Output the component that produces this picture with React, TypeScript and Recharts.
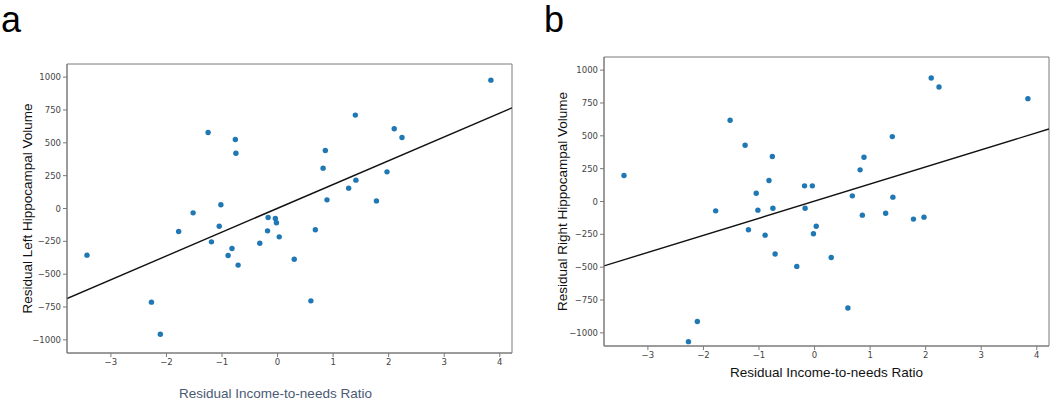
import {
  ScatterChart,
  Scatter,
  XAxis,
  YAxis,
  ReferenceLine,
  ReferenceArea,
} from "recharts";

// Residual income-to-needs ratio (shared by both panels)
const incomeResid = [
  -3.43, -2.27, -2.11, -1.78, -1.52, -1.25, -1.19, -1.05, -1.02, -0.89, -0.82,
  -0.76, -0.75, -0.71, -0.32, -0.18, -0.17, -0.04, -0.02, 0.03, 0.3, 0.6, 0.68,
  0.82, 0.86, 0.89, 1.28, 1.4, 1.41, 1.78, 1.97, 2.1, 2.24, 3.84,
];

// Residual left hippocampal volume (panel a)
const leftVolume = [
  -355, -713, -957, -175, -33, 579, -254, -135, 28, -358, -305, 525, 421, -431,
  -264, -170, -69, -76, -109, -216, -386, -703, -162, 307, 442, 66, 155, 711,
  216, 58, 279, 607, 541, 977,
];

// Residual right hippocampal volume (panel b)
const rightVolume = [
  198, -1067, -913, -71, 619, 428, -215, 63, -66, -256, 160, 342, -51, -400,
  -494, 119, -51, 119, -246, -188, -426, -811, 43, 241, -104, 337, -89, 494, 33,
  -134, -119, 940, 872, 783,
];

const xTicks = [-3, -2, -1, 0, 1, 2, 3, 4];
const yTicks = [-1000, -750, -500, -250, 0, 250, 500, 750, 1000];
const X_DOMAIN: [number, number] = [-3.79, 4.22];
const Y_DOMAIN: [number, number] = [-1100, 1100];

const BLUE = "#1f77b4";
const AXIS = "#7a7a7a";

const fmt = (v: number) => String(v).replace("-", "\u2212");

// ordinary least squares fit, as in the original figure
function fit(xs: number[], ys: number[]) {
  const n = xs.length;
  const mx = xs.reduce((a, b) => a + b, 0) / n;
  const my = ys.reduce((a, b) => a + b, 0) / n;
  let sxy = 0;
  let sxx = 0;
  xs.forEach((x, i) => {
    sxy += (x - mx) * (ys[i] - my);
    sxx += (x - mx) * (x - mx);
  });
  const slope = sxy / sxx;
  const icpt = my - slope * mx;
  return X_DOMAIN.map((x) => ({ x, y: icpt + slope * x }));
}

const Dot = (props: any) => <circle cx={props.cx} cy={props.cy} r={2.7} fill={BLUE} />;

type PanelProps = {
  ys: number[];
  yLabel: string;
  xLabelColor: string;
  margin: { top: number; right: number; bottom: number; left: number };
  yLabelDx: number;
  xLabelDx: number;
  xLabelDy: number;
};

function Panel({ ys, yLabel, xLabelColor, margin, yLabelDx, xLabelDx, xLabelDy }: PanelProps) {
  const points = incomeResid.map((x, i) => ({ x, y: ys[i] }));
  const line = fit(incomeResid, ys);
  const tick = { fontSize: 8.5, fill: "#444", fontFamily: "DejaVu Sans" };

  return (
    <ScatterChart width={520} height={400} margin={margin}>
      <XAxis
        type="number"
        dataKey="x"
        domain={X_DOMAIN}
        ticks={xTicks}
        tickFormatter={fmt}
        allowDataOverflow
        height={30}
        stroke={AXIS}
        tick={tick}
        tickSize={4}
        label={{
          value: "Residual Income-to-needs Ratio",
          position: "center",
          dx: xLabelDx,
          dy: xLabelDy,
          fill: xLabelColor,
          fontSize: 13.5,
          fontFamily: "Liberation Sans",
        }}
      />
      <YAxis
        type="number"
        dataKey="y"
        domain={Y_DOMAIN}
        ticks={yTicks}
        tickFormatter={fmt}
        allowDataOverflow
        width={40}
        stroke={AXIS}
        tick={tick}
        tickSize={4}
        label={{
          value: yLabel,
          angle: -90,
          position: "center",
          dx: yLabelDx,
          fill: "#111",
          fontSize: 13.5,
          fontFamily: "Liberation Sans",
        }}
      />
      <ReferenceArea
        x1={X_DOMAIN[0]}
        x2={X_DOMAIN[1]}
        y1={Y_DOMAIN[0]}
        y2={Y_DOMAIN[1]}
        fill="none"
        stroke={AXIS}
        strokeWidth={1}
      />
      <ReferenceLine segment={line} stroke="#111" strokeWidth={1.4} ifOverflow="hidden" />
      <Scatter data={points} fill={BLUE} isAnimationActive={false} shape={Dot} />
    </ScatterChart>
  );
}

const letter: React.CSSProperties = {
  position: "absolute",
  top: 0,
  fontFamily: "Liberation Sans",
  fontSize: 36,
  lineHeight: "40px",
  color: "#000",
};

export default function App() {
  return (
    <div
      style={{
        position: "absolute",
        left: 0,
        top: 0,
        width: 1050,
        height: 400,
        background: "#fff",
        overflow: "hidden",
      }}
    >
      <div style={{ position: "absolute", left: 0, top: 0 }}>
        <Panel
          ys={leftVolume}
          yLabel="Residual Left Hippocampal Volume"
          xLabelColor="#4a5a72"
          margin={{ top: 64, right: 8, bottom: 17, left: 27 }}
          yLabelDx={-20}
          xLabelDx={-14}
          xLabelDy={25}
        />
      </div>
      <div style={{ position: "absolute", left: 530, top: 0 }}>
        <Panel
          ys={rightVolume}
          yLabel="Residual Right Hippocampal Volume"
          xLabelColor="#111"
          margin={{ top: 57, right: 1, bottom: 24, left: 34 }}
          yLabelDx={-22}
          xLabelDx={0}
          xLabelDy={11}
        />
      </div>
      <div style={{ ...letter, left: 1 }}>a</div>
      <div style={{ ...letter, left: 544 }}>b</div>
    </div>
  );
}
